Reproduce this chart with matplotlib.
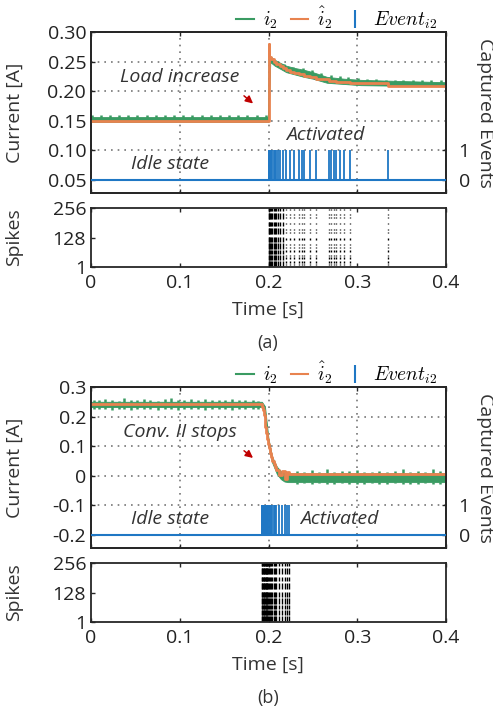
import numpy as np
import matplotlib
matplotlib.use("Agg")
import matplotlib.pyplot as plt
from matplotlib.lines import Line2D

plt.rcParams['font.family'] = ['Open Sans', 'DejaVu Sans']
plt.rcParams['mathtext.fontset'] = 'cm'
plt.rcParams['font.size'] = 13

GREEN = '#3a9b62'
ORANGE = '#e8834f'
BLUE = '#1f77c4'
RED = '#c00000'
AXC = '#262626'

# ---------------- panel (a) data ----------------
band_a_t = [0, 0.1995, 0.2, 0.202, 0.207, 0.213, 0.22, 0.23, 0.24, 0.25, 0.266, 0.285, 0.304, 0.35, 0.4]
band_a_lo = [0.148, 0.148, 0.148, 0.249, 0.243, 0.238, 0.232, 0.228, 0.224, 0.221, 0.214, 0.212, 0.210, 0.209, 0.208]
band_a_hi = [0.156, 0.156, 0.272, 0.259, 0.253, 0.248, 0.243, 0.239, 0.236, 0.232, 0.224, 0.221, 0.219, 0.217, 0.215]
spk_a_t = [0.001, 0.011, 0.021, 0.032, 0.042, 0.052, 0.063, 0.073, 0.083, 0.094,
           0.104, 0.114, 0.125, 0.135, 0.145, 0.156, 0.166, 0.176, 0.187, 0.197,
           0.218, 0.228, 0.239, 0.249, 0.259, 0.270, 0.280, 0.290, 0.301, 0.311,
           0.321, 0.332, 0.342, 0.352, 0.363, 0.373, 0.383, 0.394]
spk_a_v = [0.160] * 20 + [0.245, 0.241, 0.239, 0.235, 0.231, 0.227, 0.225, 0.224, 0.222,
                          0.221, 0.220, 0.219, 0.219, 0.219, 0.218, 0.218, 0.218, 0.218]
est_a_t = [0, 0.200, 0.201, 0.203, 0.206, 0.209, 0.213, 0.2163, 0.220, 0.2245, 0.229,
           0.2347, 0.2403, 0.2471, 0.2536, 0.2679, 0.2766, 0.2916, 0.3351, 0.4]
est_a_v = [0.149, 0.280, 0.258, 0.254, 0.250, 0.246, 0.242, 0.239, 0.236, 0.233, 0.231,
           0.229, 0.226, 0.223, 0.220, 0.217, 0.215, 0.213, 0.209, 0.209]
events_a = [0.200, 0.201, 0.202, 0.203, 0.2045, 0.206, 0.2075, 0.209, 0.211, 0.213,
            0.2163, 0.220, 0.2245, 0.229, 0.2347, 0.2377, 0.2403, 0.2471, 0.2536,
            0.2679, 0.2709, 0.2735, 0.2766, 0.2803, 0.2848, 0.2916, 0.3351]
yticks_a = [0.05, 0.10, 0.15, 0.20, 0.25, 0.30]
ylabels_a = ['0.05', '0.10', '0.15', '0.20', '0.25', '0.30']

# ---------------- panel (b) data ----------------
band_b_t = [0, 0.1925, 0.196, 0.200, 0.204, 0.2095, 0.214, 0.218, 0.222, 0.226, 0.4]
band_b_lo = [0.232, 0.232, 0.212, 0.100, 0.045, 0.005, -0.012, -0.020, -0.022, -0.022, -0.022]
band_b_hi = [0.250, 0.250, 0.235, 0.125, 0.065, 0.030, 0.015, 0.010, 0.008, 0.008, 0.008]
noise_b_t = [0.003, 0.009, 0.016, 0.024, 0.031, 0.037, 0.045, 0.052, 0.060, 0.067,
             0.075, 0.083, 0.090, 0.098, 0.105, 0.113, 0.121, 0.128, 0.136, 0.144,
             0.151, 0.159, 0.167, 0.174, 0.182, 0.188,
             0.232, 0.240, 0.249, 0.257, 0.266, 0.274, 0.283, 0.291, 0.300, 0.308,
             0.317, 0.325, 0.334, 0.342, 0.351, 0.359, 0.368, 0.376, 0.385, 0.393]
noise_b_hi = [0.257, 0.255, 0.260, 0.256, 0.254, 0.262, 0.257, 0.255, 0.259, 0.256,
              0.254, 0.258, 0.263, 0.256, 0.255, 0.258, 0.256, 0.261, 0.255, 0.257,
              0.256, 0.259, 0.255, 0.257, 0.256, 0.254,
              0.016, 0.012, 0.018, 0.013, 0.022, 0.012, 0.015, 0.014, 0.019, 0.012,
              0.013, 0.017, 0.012, 0.014, 0.021, 0.012, 0.015, 0.013, 0.024, 0.014]
noise_b_lo = [0.226, 0.224, 0.227, 0.223, 0.225, 0.226, 0.222, 0.225, 0.224, 0.226,
              0.223, 0.225, 0.224, 0.222, 0.226, 0.224, 0.225, 0.223, 0.226, 0.224,
              0.225, 0.223, 0.226, 0.224, 0.225, 0.226,
              -0.027, -0.026, -0.029, -0.026, -0.028, -0.027, -0.026, -0.028, -0.027, -0.029,
              -0.026, -0.028, -0.027, -0.026, -0.028, -0.027, -0.029, -0.026, -0.028, -0.027]
est_b_t = [0, 0.1925, 0.1935, 0.1945, 0.1955, 0.1965, 0.1975, 0.1985, 0.1995, 0.2005,
           0.2015, 0.203, 0.2045, 0.206, 0.2075, 0.209, 0.2115, 0.215, 0.2185, 0.221,
           0.2226, 0.4]
est_b_v = [0.242, 0.232, 0.222, 0.205, 0.185, 0.165, 0.145, 0.125, 0.108, 0.092,
           0.078, 0.062, 0.050, 0.038, 0.028, 0.018, 0.002, 0.016, -0.012, 0.012,
           0.005, 0.005]
events_b = [0.1925, 0.1932, 0.1939, 0.1946, 0.1953, 0.196, 0.1967, 0.1974, 0.1981,
            0.1988, 0.1995, 0.2005, 0.2015, 0.203, 0.2045, 0.206, 0.2075, 0.209,
            0.2115, 0.215, 0.2185, 0.221, 0.2226]
yticks_b = [-0.2, -0.1, 0, 0.1, 0.2, 0.3]
ylabels_b = ['-0.2', '-0.1', '0', '0.1', '0.2', '0.3']

# spiking neuron rows (neuron index ranges) for dense and sparse columns
rows_dense = [(244, 254), (208, 233), (179, 194), (144, 170), (108, 129),
              (80, 104), (56, 76), (32, 52), (6, 28)]
rows_sparse = [(247, 252), (225, 230), (212, 216), (185, 190), (160, 166),
               (148, 152), (118, 126), (96, 102), (84, 88), (66, 74),
               (48, 52), (36, 44), (20, 26), (8, 14)]

xticks = [0, 0.1, 0.2, 0.3, 0.4]
xlabels = ['0', '0.1', '0.2', '0.3', '0.4']


def style_axes(ax):
    for s in ax.spines.values():
        s.set_color(AXC)
        s.set_linewidth(1.3)
    ax.tick_params(direction='in', top=True, length=3, width=1, colors=AXC,
                   labelcolor='#222222', labelsize=14)


def draw_panel(y_top, y_spk, band, spikes, est, events, yt, yl, ylim, notes, letter, dense_until):
    H = 708.0
    left, width = 91 / 493.0, 355 / 493.0
    ax = fig.add_axes([left, 1 - (y_top + 161) / H, width, 161 / H])
    ax.fill_between(band[0], band[1], band[2], color=GREEN, lw=0.6, edgecolor=GREEN, zorder=2)
    sp_t, sp_hi, sp_lo = spikes
    base = np.interp(sp_t, band[0], band[2])
    ax.vlines(sp_t, base - 0.002, sp_hi, color=GREEN, lw=1.8, zorder=2)
    if sp_lo is not None:
        base_lo = np.interp(sp_t, band[0], band[1])
        ax.vlines(sp_t, sp_lo, base_lo + 0.002, color=GREEN, lw=1.8, zorder=2)
    ax.step(est[0], est[1], where='post', color=ORANGE, lw=2, zorder=3)
    ax.set_xlim(0, 0.4)
    ax.set_ylim(*ylim)
    ax.set_xticks(xticks)
    ax.set_xticklabels([])
    ax.set_yticks(yt)
    ax.set_yticklabels(yl)
    ax.grid(True, color='#777777', linestyle=(0, (1, 3)), lw=1.2)
    style_axes(ax)
    ax.set_ylabel('Current [A]', fontsize=14, color='#333333')
    ax.yaxis.set_label_coords(-0.19, 0.5)

    ax2 = ax.twinx()
    ax2.set_ylim(-0.45, 5.0)
    ax2.axhline(0, color=BLUE, lw=1.5, zorder=4)
    ax2.vlines(events, 0, 1, color=BLUE, lw=1.3, zorder=4)
    ax2.set_yticks([0, 1])
    ax2.set_yticklabels(['0', '1'])
    style_axes(ax2)
    ax2.tick_params(pad=9)
    ax2.set_ylabel('Captured Events', rotation=270, fontsize=14, color='#333333',
                   ha='center', va='center')
    ax2.yaxis.set_label_coords(1.11, 0.5)

    for txt, x, y in notes['text']:
        ax.text(x, y, txt, style='italic', ha='center', va='center', fontsize=14,
                color='#333333', zorder=5)
    (tx, ty), (hx, hy) = notes['arrow']
    ax.annotate('', xy=(hx, hy), xytext=(tx, ty),
                arrowprops=dict(arrowstyle='-|>', color=RED, lw=1.1, mutation_scale=11))

    handles = [Line2D([], [], color=GREEN, lw=1.5),
               Line2D([], [], color=ORANGE, lw=1.5),
               Line2D([], [], color=BLUE, marker='|', ls='none', markersize=13, mew=1.5)]
    ax2.legend(handles, [r'$i_2$', r'$\hat{i}_2$', r'$Event_{i2}$'], ncol=3,
               loc='lower right', bbox_to_anchor=(0.985, 0.98), frameon=False,
               handlelength=0.9, handletextpad=0.45, columnspacing=0.7,
               fontsize=14, borderaxespad=0.0, borderpad=0.2)

    axs = fig.add_axes([left, 1 - (y_spk + 59) / H, width, 59 / H])
    for t in events:
        rows = rows_dense if t <= dense_until else rows_sparse
        for r0, r1 in rows:
            axs.vlines(t, r0, r1, color='black', lw=1.0)
    axs.set_xlim(0, 0.4)
    axs.set_ylim(1, 256)
    axs.set_yticks([1, 128, 256])
    axs.set_xticks(xticks)
    axs.set_xticklabels(xlabels)
    style_axes(axs)
    axs.tick_params(axis='x', pad=5)
    axs.set_ylabel('Spikes', fontsize=14, color='#333333')
    axs.yaxis.set_label_coords(-0.19, 0.5)

    fig.text(268 / 493.0, 1 - (y_spk + 102) / H, 'Time [s]', ha='center', va='center',
             fontsize=14, color='#333333')
    fig.text(268 / 493.0, 1 - (y_spk + 135) / H, letter, ha='center', va='center',
             fontsize=13, color='#333333')


fig = plt.figure(figsize=(4.93, 7.08), dpi=100)

notes_a = {'text': [('Load increase', 0.100, 0.224), ('Activated', 0.264, 0.126),
                    ('Idle state', 0.089, 0.077)],
           'arrow': ((0.170, 0.195), (0.185, 0.176))}
notes_b = {'text': [('Conv. II stops', 0.100, 0.148), ('Activated', 0.280, -0.146),
                    ('Idle state', 0.089, -0.146)],
           'arrow': ((0.170, 0.090), (0.185, 0.054))}

draw_panel(32, 208, (band_a_t, band_a_lo, band_a_hi), (spk_a_t, spk_a_v, None),
           (est_a_t, est_a_v), events_a, yticks_a, ylabels_a, (0.0275, 0.30),
           notes_a, '(a)', 0.2163)
draw_panel(387, 563, (band_b_t, band_b_lo, band_b_hi), (noise_b_t, noise_b_hi, noise_b_lo),
           (est_b_t, est_b_v), events_b, yticks_b, ylabels_b, (-0.245, 0.30),
           notes_b, '(b)', 0.25)

fig.savefig('out.png', dpi=100)
